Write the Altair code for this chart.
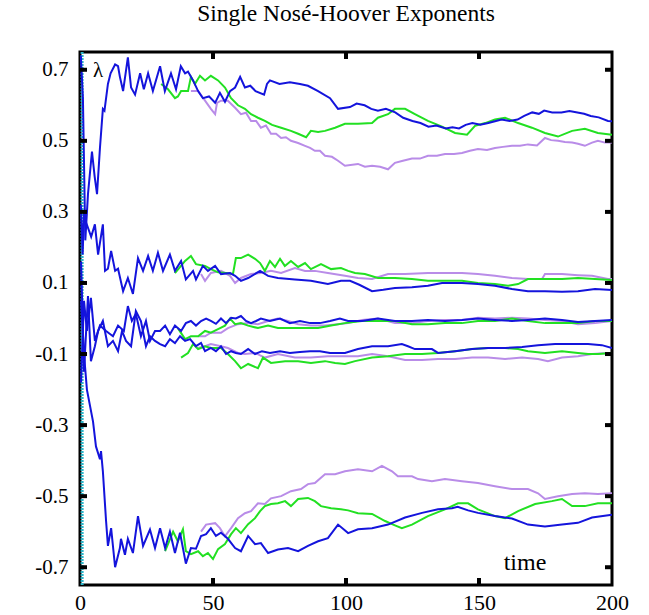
import altair as alt
import pandas as pd

# ---------------- data ----------------
title_text = ["Single Nosé-Hoover Exponents"]
lambda_text = ["λ"]
time_text = ["time"]
x_tick_values = [0, 50, 100, 150, 200]
x_inner_ticks = [50, 100, 150]
y_tick_values = [-0.7, -0.5, -0.3, -0.1, 0.1, 0.3, 0.5, 0.7]

run_names = ["purple", "green", "blue"]
run_colors = ["#b98ce8", "#22e022", "#1414dc"]

# ---- blue run ----
blue1_t = [0.3, 1.1, 2.0, 3.0, 4.5, 5.5, 6.4, 7.5, 8.6, 9.2, 10.5, 11.5, 13.2, 14.3, 15.0, 16.2, 18.0, 19.2, 20.7, 22.6, 24.0, 25.6, 27.4, 30.1, 31.9, 34.2, 36.1, 37.9, 39.5, 40.6, 42.5, 44.4, 46.2, 48.5, 50.8, 52.6, 54.5, 56.4, 58.3, 60.2, 62.0, 64.0, 66.0, 69.2, 70.3, 71.4, 75.0, 78.9, 82.7, 85.7, 89.5, 94.0, 97.0, 101.5, 104.0, 107.0, 109.5, 112.0, 115.0, 118.5, 121.5, 125.0, 128.0, 131.0, 134.0, 137.5, 140.0, 142.5, 145.0, 147.5, 150.5, 153.5, 156.0, 158.5, 161.5, 164.5, 167.0, 170.0, 172.5, 174.5, 177.5, 181.0, 184.0, 187.0, 189.5, 192.0, 195.0, 198.5, 200.0]
blue1_v = [0.74, 0.62, 0.22, 0.35, 0.47, 0.40, 0.35, 0.48, 0.59, 0.585, 0.66, 0.69, 0.715, 0.71, 0.68, 0.64, 0.735, 0.65, 0.63, 0.69, 0.645, 0.69, 0.64, 0.71, 0.64, 0.69, 0.645, 0.71, 0.69, 0.695, 0.67, 0.64, 0.62, 0.625, 0.607, 0.635, 0.61, 0.64, 0.65, 0.68, 0.65, 0.655, 0.64, 0.63, 0.66, 0.67, 0.66, 0.665, 0.66, 0.655, 0.64, 0.62, 0.59, 0.595, 0.605, 0.60, 0.59, 0.585, 0.59, 0.58, 0.565, 0.556, 0.55, 0.54, 0.543, 0.535, 0.538, 0.535, 0.545, 0.55, 0.545, 0.55, 0.555, 0.56, 0.556, 0.56, 0.57, 0.58, 0.576, 0.585, 0.58, 0.58, 0.584, 0.58, 0.576, 0.57, 0.566, 0.556, 0.555]

blue2_t = [0.3, 1.0, 1.5, 2.3, 4.2, 5.6, 6.8, 8.6, 9.4, 10.5, 11.7, 13.2, 14.3, 16.2, 18.0, 19.9, 21.8, 23.7, 25.6, 27.4, 29.3, 31.2, 33.8, 35.7, 38.0, 39.8, 42.5, 43.6, 46.2, 48.1, 50.8, 53.0, 56.4, 58.3, 60.5, 63.2, 67.7, 70.7, 74.4, 80.8, 86.8, 93.2, 98.1, 101.5, 105.0, 109.8, 114.0, 118.4, 124.8, 130.8, 136.1, 143.6, 149.6, 156.0, 162.4, 168.4, 174.8, 181.2, 187.2, 193.6, 200.0]
blue2_v = [0.32, 0.18, 0.30, 0.27, 0.23, 0.265, 0.18, 0.265, 0.134, 0.14, 0.19, 0.134, 0.14, 0.077, 0.114, 0.069, 0.17, 0.134, 0.176, 0.134, 0.185, 0.134, 0.18, 0.134, 0.162, 0.11, 0.134, 0.11, 0.148, 0.134, 0.148, 0.125, 0.128, 0.12, 0.106, 0.114, 0.134, 0.12, 0.114, 0.11, 0.106, 0.097, 0.106, 0.106, 0.095, 0.077, 0.081, 0.086, 0.088, 0.092, 0.10, 0.10, 0.097, 0.092, 0.083, 0.077, 0.077, 0.075, 0.077, 0.083, 0.08]

blue3_t = [0.4, 1.5, 2.6, 4.1, 5.6, 7.5, 9.8, 12.4, 14.3, 16.5, 18.0, 19.5, 21.0, 22.9, 24.8, 26.3, 28.2, 30.1, 32.0, 33.8, 35.7, 38.0, 39.8, 41.7, 43.6, 45.5, 47.4, 49.2, 51.1, 53.0, 54.9, 56.8, 58.6, 60.5, 62.4, 64.3, 66.2, 68.0, 71.4, 75.2, 78.9, 82.7, 86.5, 90.2, 94.0, 97.7, 100.8, 106.0, 112.0, 118.4, 124.8, 130.8, 137.2, 143.6, 149.6, 156.0, 162.4, 168.4, 174.8, 181.2, 187.2, 193.6, 200.0]
blue3_v = [-0.18, 0.05, -0.035, 0.058, -0.063, -0.02, -0.035, -0.05, -0.02, -0.035, 0.035, -0.007, 0.013, -0.05, -0.007, -0.063, -0.035, -0.035, -0.02, -0.044, -0.02, -0.035, -0.013, -0.007, -0.02, -0.007, 0.0, -0.007, -0.015, 0.0, -0.013, 0.002, 0.0, 0.007, -0.007, -0.013, -0.007, 0.0, -0.007, 0.0, -0.013, -0.007, -0.013, -0.013, -0.007, 0.0, -0.007, -0.007, 0.0, -0.007, -0.007, -0.004, -0.007, -0.004, 0.0, -0.004, -0.007, -0.004, 0.0, -0.004, -0.01, -0.007, -0.004]

blue4_t = [0.4, 1.5, 3.0, 4.1, 5.6, 6.8, 8.6, 10.5, 12.4, 14.3, 15.8, 17.3, 19.2, 21.0, 22.9, 24.8, 26.3, 28.2, 30.1, 32.0, 33.8, 35.7, 37.6, 39.5, 41.4, 43.6, 45.5, 47.0, 49.2, 51.1, 53.0, 54.9, 56.8, 58.6, 60.5, 63.2, 65.8, 68.4, 71.4, 75.2, 78.9, 82.7, 86.5, 90.2, 94.0, 99.6, 104.5, 109.8, 115.8, 121.0, 123.3, 125.9, 132.3, 134.6, 141.0, 147.4, 153.4, 159.8, 166.2, 172.2, 178.6, 185.0, 191.0, 196.2, 200.0]
blue4_v = [0.16, -0.15, 0.063, -0.12, -0.078, -0.035, -0.007, -0.078, -0.063, -0.092, -0.035, -0.063, -0.078, 0.021, -0.007, -0.078, -0.05, -0.063, -0.072, -0.078, -0.058, -0.069, -0.05, -0.063, -0.058, -0.078, -0.069, -0.092, -0.083, -0.092, -0.078, -0.10, -0.092, -0.097, -0.10, -0.086, -0.10, -0.092, -0.097, -0.092, -0.097, -0.094, -0.092, -0.092, -0.097, -0.097, -0.086, -0.078, -0.078, -0.072, -0.078, -0.086, -0.086, -0.097, -0.092, -0.086, -0.083, -0.083, -0.08, -0.075, -0.072, -0.072, -0.072, -0.075, -0.083]

blue5_t = [0.4, 1.5, 2.6, 4.9, 6.0, 7.5, 7.9, 8.6, 9.8, 10.5, 11.7, 13.2, 15.0, 15.4, 16.9, 18.0, 19.9, 21.8, 23.7, 26.3, 28.2, 30.1, 32.0, 33.8, 35.7, 37.6, 39.8, 41.7, 43.6, 45.5, 47.4, 49.2, 51.1, 53.0, 55.6, 58.3, 60.5, 63.2, 65.8, 68.0, 70.7, 74.4, 78.2, 82.0, 85.7, 89.5, 93.2, 97.0, 100.8, 104.5, 109.8, 115.8, 122.2, 128.6, 134.6, 139.8, 142.0, 145.9, 149.6, 156.0, 162.4, 168.4, 174.8, 181.2, 187.2, 192.5, 200.0]
blue5_v = [0.05, -0.10, -0.20, -0.29, -0.36, -0.396, -0.373, -0.43, -0.57, -0.64, -0.59, -0.70, -0.646, -0.62, -0.665, -0.62, -0.66, -0.556, -0.64, -0.594, -0.646, -0.59, -0.646, -0.60, -0.66, -0.603, -0.69, -0.646, -0.648, -0.612, -0.607, -0.59, -0.612, -0.603, -0.62, -0.646, -0.655, -0.612, -0.635, -0.632, -0.66, -0.65, -0.646, -0.655, -0.64, -0.627, -0.618, -0.58, -0.604, -0.593, -0.59, -0.58, -0.56, -0.547, -0.537, -0.534, -0.53, -0.54, -0.547, -0.556, -0.563, -0.58, -0.585, -0.58, -0.575, -0.56, -0.552]

# ---- green run ----
green1_t = [30.5, 33.1, 35.7, 36.8, 38.0, 40.6, 41.7, 43.2, 45.1, 47.0, 49.2, 51.9, 54.5, 56.8, 59.4, 62.0, 64.3, 66.9, 69.5, 72.2, 75.6, 79.3, 82.0, 85.0, 86.8, 89.5, 92.1, 95.9, 99.6, 104.5, 109.8, 112.0, 115.8, 118.4, 122.2, 125.9, 130.8, 136.1, 141.0, 145.5, 148.5, 152.3, 156.0, 159.8, 164.7, 169.9, 174.8, 179.7, 185.0, 189.8, 194.7, 200.0]
green1_v = [0.66, 0.645, 0.62, 0.625, 0.64, 0.64, 0.68, 0.66, 0.683, 0.67, 0.683, 0.67, 0.65, 0.62, 0.60, 0.59, 0.575, 0.565, 0.556, 0.545, 0.537, 0.528, 0.52, 0.51, 0.528, 0.525, 0.528, 0.537, 0.548, 0.548, 0.55, 0.565, 0.575, 0.59, 0.59, 0.575, 0.556, 0.54, 0.522, 0.517, 0.542, 0.55, 0.56, 0.565, 0.55, 0.537, 0.522, 0.512, 0.528, 0.534, 0.522, 0.517]

green2_t = [35.7, 39.5, 41.7, 43.6, 47.0, 49.2, 51.9, 54.9, 57.5, 58.6, 60.5, 63.2, 65.8, 67.7, 69.5, 71.4, 73.3, 75.2, 77.0, 79.3, 82.0, 84.6, 86.8, 90.6, 94.4, 98.1, 100.8, 103.4, 107.1, 112.0, 118.4, 124.8, 130.8, 137.2, 143.6, 149.6, 156.0, 160.9, 164.7, 168.4, 174.8, 181.2, 187.2, 193.6, 200.0]
green2_v = [0.128, 0.162, 0.176, 0.153, 0.148, 0.139, 0.13, 0.128, 0.125, 0.17, 0.17, 0.18, 0.168, 0.156, 0.134, 0.162, 0.145, 0.168, 0.148, 0.162, 0.145, 0.156, 0.139, 0.153, 0.139, 0.142, 0.134, 0.128, 0.125, 0.114, 0.114, 0.111, 0.106, 0.106, 0.106, 0.10, 0.097, 0.092, 0.097, 0.111, 0.111, 0.111, 0.114, 0.111, 0.108]

green3_t = [36.8, 39.5, 41.7, 44.4, 47.0, 49.2, 51.9, 54.5, 56.4, 58.3, 60.5, 63.2, 66.9, 70.7, 74.4, 79.3, 84.6, 89.5, 94.4, 99.6, 106.0, 112.0, 118.4, 124.8, 130.8, 137.2, 143.6, 149.6, 156.0, 162.4, 168.4, 174.8, 181.2, 187.2, 193.6, 200.0]
green3_v = [-0.027, -0.058, -0.05, -0.05, -0.035, -0.04, -0.03, -0.02, 0.0, -0.016, -0.013, -0.02, -0.027, -0.02, -0.027, -0.027, -0.027, -0.027, -0.02, -0.013, -0.007, -0.007, -0.007, -0.016, -0.016, -0.013, -0.013, -0.007, -0.007, 0.0, -0.007, -0.013, -0.013, -0.013, -0.007, -0.007]

green4_t = [38.0, 40.6, 42.5, 44.4, 47.0, 49.2, 53.0, 55.6, 58.3, 60.5, 63.2, 66.9, 68.8, 71.8, 77.1, 82.0, 86.8, 92.1, 95.9, 99.6, 103.4, 109.8, 115.8, 122.2, 128.6, 134.6, 141.0, 147.4, 153.4, 159.8, 164.7, 168.4, 174.8, 181.2, 187.2, 191.0, 194.7, 200.0]
green4_v = [-0.11, -0.097, -0.072, -0.086, -0.078, -0.083, -0.083, -0.10, -0.12, -0.14, -0.128, -0.14, -0.11, -0.125, -0.12, -0.12, -0.125, -0.12, -0.125, -0.128, -0.12, -0.11, -0.106, -0.10, -0.10, -0.097, -0.092, -0.086, -0.083, -0.083, -0.086, -0.092, -0.097, -0.092, -0.097, -0.10, -0.10, -0.097]

green5_t = [32.0, 35.0, 36.8, 38.7, 39.8, 41.7, 44.4, 46.2, 48.1, 50.0, 51.9, 54.5, 56.8, 58.6, 60.5, 63.2, 65.8, 67.7, 69.5, 71.8, 74.4, 77.1, 79.3, 82.0, 85.7, 88.3, 90.6, 94.4, 98.1, 100.8, 104.5, 109.8, 114.7, 118.4, 121.0, 124.8, 130.8, 137.2, 142.1, 145.9, 149.6, 156.0, 159.8, 164.7, 171.1, 177.4, 181.2, 185.0, 189.8, 194.7, 200.0]
green5_v = [-0.655, -0.60, -0.627, -0.593, -0.655, -0.663, -0.655, -0.669, -0.66, -0.677, -0.649, -0.635, -0.607, -0.59, -0.604, -0.579, -0.562, -0.542, -0.528, -0.522, -0.52, -0.514, -0.528, -0.508, -0.505, -0.514, -0.528, -0.534, -0.537, -0.54, -0.548, -0.55, -0.57, -0.582, -0.59, -0.58, -0.556, -0.537, -0.52, -0.52, -0.537, -0.556, -0.562, -0.542, -0.522, -0.514, -0.508, -0.528, -0.528, -0.52, -0.52]

# ---- purple run ----
purple1_t = [41.7, 44.4, 47.0, 49.2, 50.8, 51.5, 53.0, 55.6, 58.3, 60.5, 62.4, 64.3, 66.2, 68.0, 69.9, 71.8, 73.7, 75.6, 77.4, 79.3, 82.0, 84.6, 86.5, 88.3, 90.2, 92.1, 94.7, 97.0, 99.6, 104.5, 107.1, 109.8, 112.8, 115.8, 118.4, 121.4, 124.8, 127.8, 130.8, 134.2, 137.2, 140.6, 143.6, 146.6, 149.6, 153.0, 156.0, 159.0, 162.4, 165.4, 168.4, 171.8, 174.8, 177.1, 179.7, 182.3, 185.0, 187.2, 189.8, 192.5, 194.7, 197.4, 200.0]
purple1_v = [0.64, 0.64, 0.613, 0.59, 0.575, 0.607, 0.613, 0.613, 0.593, 0.575, 0.579, 0.556, 0.556, 0.537, 0.543, 0.52, 0.52, 0.508, 0.51, 0.50, 0.494, 0.486, 0.48, 0.472, 0.472, 0.458, 0.455, 0.444, 0.43, 0.435, 0.427, 0.43, 0.427, 0.42, 0.438, 0.444, 0.45, 0.45, 0.458, 0.458, 0.463, 0.463, 0.466, 0.472, 0.477, 0.474, 0.48, 0.483, 0.486, 0.486, 0.49, 0.487, 0.508, 0.502, 0.50, 0.497, 0.495, 0.492, 0.486, 0.495, 0.50, 0.495, 0.495]

purple2_t = [45.5, 47.0, 49.2, 53.0, 56.4, 58.3, 60.5, 64.3, 68.0, 71.8, 75.6, 80.8, 84.6, 88.3, 93.2, 99.6, 104.5, 109.8, 115.8, 122.2, 130.8, 137.2, 143.6, 149.6, 156.0, 162.4, 168.4, 173.7, 174.8, 181.2, 187.2, 192.5, 198.5, 200.0]
purple2_v = [0.125, 0.106, 0.128, 0.134, 0.12, 0.10, 0.114, 0.125, 0.128, 0.134, 0.128, 0.142, 0.134, 0.134, 0.128, 0.12, 0.114, 0.111, 0.125, 0.125, 0.128, 0.128, 0.128, 0.125, 0.12, 0.114, 0.111, 0.111, 0.125, 0.125, 0.122, 0.12, 0.111, 0.111]

purple3_t = [44.4, 47.0, 49.2, 53.0, 55.6, 59.4, 63.2, 66.9, 70.7, 74.4, 78.2, 82.0, 86.8, 92.1, 97.0, 100.8, 106.0, 112.0, 118.4, 124.8, 130.8, 137.2, 143.6, 149.6, 156.0, 162.4, 168.4, 174.8, 181.2, 187.2, 193.6, 200.0]
purple3_v = [-0.05, -0.05, -0.04, -0.04, -0.027, -0.016, -0.013, -0.016, -0.007, 0.0, -0.007, -0.016, -0.02, -0.02, -0.016, -0.013, -0.004, 0.0, -0.013, -0.013, -0.007, -0.004, -0.004, 0.002, 0.0, 0.002, 0.0, -0.004, -0.007, -0.016, -0.013, -0.007]

purple4_t = [44.4, 47.0, 49.2, 53.0, 55.6, 59.4, 62.0, 65.8, 69.5, 74.4, 80.8, 86.8, 93.2, 99.6, 104.5, 109.8, 115.8, 122.2, 128.6, 134.6, 141.0, 147.4, 153.4, 159.8, 166.2, 172.2, 175.9, 181.2, 187.2, 192.5, 198.5, 200.0]
purple4_v = [-0.083, -0.078, -0.072, -0.078, -0.083, -0.097, -0.10, -0.097, -0.11, -0.10, -0.11, -0.11, -0.106, -0.106, -0.106, -0.10, -0.106, -0.117, -0.117, -0.114, -0.114, -0.11, -0.11, -0.114, -0.11, -0.114, -0.12, -0.11, -0.106, -0.10, -0.097, -0.097]

purple5_t = [45.5, 47.4, 50.8, 52.6, 54.5, 56.8, 59.4, 62.0, 64.3, 66.9, 69.5, 71.8, 75.6, 79.3, 83.1, 85.7, 88.3, 92.1, 95.9, 99.6, 104.5, 109.8, 113.5, 117.3, 119.5, 124.8, 127.1, 132.3, 137.2, 143.6, 149.6, 156.0, 162.4, 168.4, 172.2, 174.8, 179.7, 185.0, 189.8, 194.7, 200.0]
purple5_v = [-0.60, -0.58, -0.576, -0.59, -0.613, -0.59, -0.562, -0.548, -0.542, -0.52, -0.522, -0.506, -0.50, -0.486, -0.48, -0.466, -0.463, -0.438, -0.438, -0.43, -0.424, -0.43, -0.415, -0.43, -0.444, -0.444, -0.452, -0.458, -0.452, -0.458, -0.463, -0.472, -0.48, -0.48, -0.492, -0.508, -0.50, -0.494, -0.492, -0.494, -0.492]

# initial transient drawn as a near-vertical cyan stroke at t ~ 0.8
cyan_t = [0.8, 0.8]
cyan_v = [0.75, -0.75]

# ---------------- build tables ----------------
series = {
    "blue": [(blue1_t, blue1_v), (blue2_t, blue2_v), (blue3_t, blue3_v), (blue4_t, blue4_v), (blue5_t, blue5_v)],
    "green": [(green1_t, green1_v), (green2_t, green2_v), (green3_t, green3_v), (green4_t, green4_v), (green5_t, green5_v)],
    "purple": [(purple1_t, purple1_v), (purple2_t, purple2_v), (purple3_t, purple3_v), (purple4_t, purple4_v), (purple5_t, purple5_v)],
}

rows = []
for run, lst in series.items():
    for k, (ts, vs) in enumerate(lst):
        assert len(ts) == len(vs), (run, k, len(ts), len(vs))
        for i, (t, v) in enumerate(zip(ts, vs)):
            rows.append({"run": run, "line": f"{run}{k+1}", "t": t, "v": v, "i": i})
df = pd.DataFrame(rows)

FONT = "'Liberation Serif', 'Times New Roman', Times, 'DejaVu Serif', serif"
W, H = 532, 533

xscale = alt.Scale(domain=[0, 200], nice=False, zero=False)
yscale = alt.Scale(domain=[-0.75, 0.75], nice=False, zero=False)

xaxis = alt.Axis(values=x_tick_values, ticks=False, domain=False, grid=False, title=None,
                 labelFont=FONT, labelFontSize=22, labelColor="black", labelPadding=7,
                 labelFlush=False)
yaxis = alt.Axis(values=y_tick_values, ticks=False, domain=False, grid=False, title=None,
                 labelFont=FONT, labelFontSize=21, labelColor="black", labelPadding=12,
                 labelExpr="replace(format(datum.value, '.1f'), '\u2212', '-')")


def line_layer(run, color):
    return alt.Chart(df[df["run"] == run]).mark_line(strokeWidth=2, clip=True, color=color).encode(
        x=alt.X("t:Q", scale=xscale, axis=xaxis),
        y=alt.Y("v:Q", scale=yscale, axis=yaxis),
        detail="line:N",
        order="i:Q",
    )

cyan = alt.Chart(pd.DataFrame({"t": cyan_t, "v": cyan_v})).mark_line(
    strokeWidth=3, color="#2fb4c8", strokeDash=[2, 1], clip=True).encode(
    x=alt.X("t:Q", scale=xscale, axis=xaxis), y=alt.Y("v:Q", scale=yscale, axis=yaxis))

layers = [line_layer(r, c) for r, c in zip(run_names, run_colors)]

ydf = pd.DataFrame({"v": y_tick_values})
xdf = pd.DataFrame({"t": x_inner_ticks})
tick_left = alt.Chart(ydf).mark_rule(color="black", strokeWidth=4).encode(
    x=alt.value(0), x2=alt.value(7), y=alt.Y("v:Q", scale=yscale, axis=yaxis))
tick_right = alt.Chart(ydf).mark_rule(color="black", strokeWidth=4).encode(
    x=alt.value(W - 7), x2=alt.value(W), y=alt.Y("v:Q", scale=yscale, axis=yaxis))
tick_bottom = alt.Chart(xdf).mark_rule(color="black", strokeWidth=4).encode(
    x=alt.X("t:Q", scale=xscale, axis=xaxis), y=alt.value(H - 7), y2=alt.value(H))
tick_top = alt.Chart(xdf).mark_rule(color="black", strokeWidth=4).encode(
    x=alt.X("t:Q", scale=xscale, axis=xaxis), y=alt.value(0), y2=alt.value(7))

title = alt.Chart(pd.DataFrame({"s": title_text})).mark_text(
    font=FONT, fontSize=23.5, color="black", baseline="middle", align="center").encode(
    text="s:N", x=alt.value(266), y=alt.value(-38))
lam = alt.Chart(pd.DataFrame({"s": lambda_text})).mark_text(
    font=FONT, fontSize=21, color="black", baseline="middle", align="center").encode(
    text="s:N", x=alt.value(18), y=alt.value(19))
tim = alt.Chart(pd.DataFrame({"s": time_text})).mark_text(
    font=FONT, fontSize=24, color="black", baseline="middle", align="center").encode(
    text="s:N", x=alt.value(445), y=alt.value(511))

chart = alt.layer(cyan, *layers, tick_left, tick_right, tick_bottom, tick_top, title, lam, tim).properties(
    width=W, height=H,
    autosize=alt.AutoSizeParams(type="none"),
    padding={"left": 80, "top": 52, "right": 37, "bottom": 30},
    background="white",
).configure_view(stroke="black", strokeWidth=3).configure_axis(
    labelFont=FONT, labelColor="black"
).configure_text(font=FONT)

chart.save("out.html", embed_options={"renderer": "svg", "actions": False})
